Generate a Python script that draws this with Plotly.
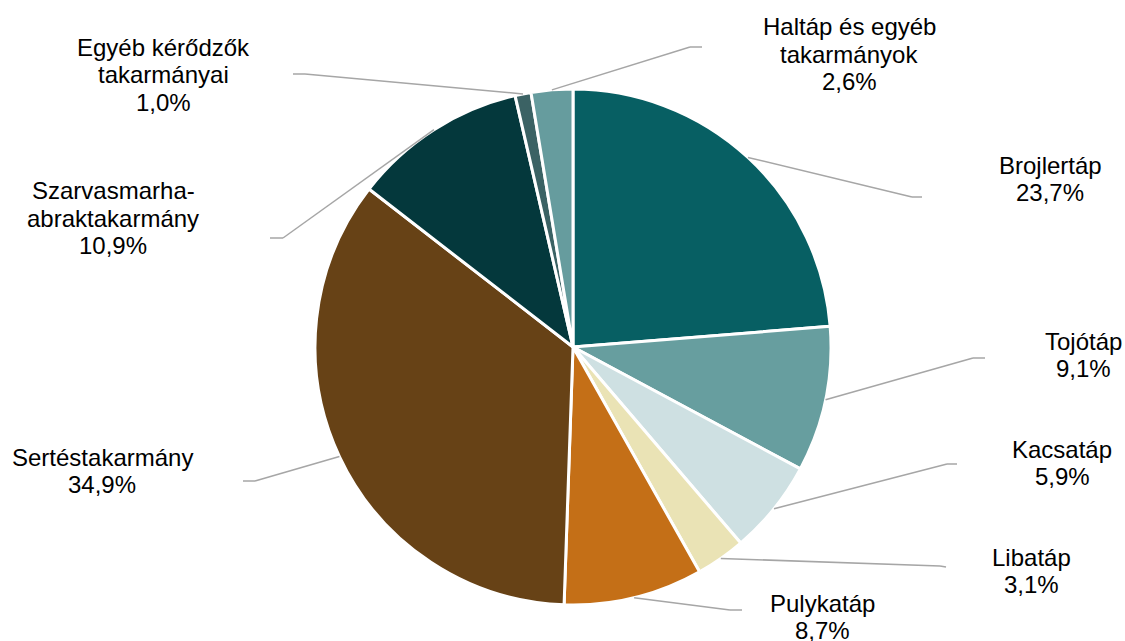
import math
import plotly.graph_objects as go

# ---- data ----
categories = ["Brojlertáp", "Tojótáp", "Kacsatáp", "Libatáp", "Pulykatáp",
              "Sertéstakarmány", "Szarvasmarha-abraktakarmány",
              "Egyéb kérődzők takarmányai", "Haltáp és egyéb takarmányok"]
label_lines = [["Brojlertáp"], ["Tojótáp"], ["Kacsatáp"], ["Libatáp"], ["Pulykatáp"],
               ["Sertéstakarmány"], ["Szarvasmarha-", "abraktakarmány"],
               ["Egyéb kérődzők", "takarmányai"], ["Haltáp és egyéb", "takarmányok"]]
values = [23.7, 9.1, 5.9, 3.1, 8.7, 34.9, 10.9, 1.0, 2.6]
colors = ["#075F63", "#679E9F", "#CEE0E2", "#EAE3B5", "#C46F17",
          "#674216", "#04383C", "#3B6264", "#669C9E"]

# ---- layout (pixel positions) ----
W, H = 1125, 641
CX, CY, R = 573, 347, 258
# elbow points of leader lines, end of short horizontal, and label centres
elbows = [(912, 197), (973, 358), (947, 464), (940, 566), (730, 610),
          (255, 481), (283, 238), (305, 74), (690, 47)]
ends = [(922, 197), (985, 358), (957, 464), (946, 567), (742, 610),
        (243, 481), (270, 238), (293, 74), (702, 47)]
label_pos = [(1050, 179), (1083, 355), (1062, 463), (1031, 571), (822, 617),
             (102, 471), (113, 218), (163, 75), (849, 54)]
LINE_H = 27.5
FONT = dict(family="Liberation Sans, Arial, sans-serif", size=24, color="#000000")


def px(x):
    return x / W


def py(y):
    return 1 - y / H


fig = go.Figure(go.Pie(
    labels=categories, values=values, sort=False, direction="clockwise",
    rotation=0, marker=dict(colors=colors, line=dict(color="white", width=3)),
    textinfo="none", hoverinfo="label+percent", showlegend=False,
    domain=dict(x=[px(CX - R), px(CX + R)], y=[py(CY + R), py(CY - R)]),
))

total = sum(values)
shapes = []
annotations = []
cum = 0.0
for i, v in enumerate(values):
    mid = (cum + v / 2) / total * 2 * math.pi
    cum += v
    sx = CX + R * math.sin(mid)
    sy = CY - R * math.cos(mid)
    ex, ey = elbows[i]
    fx, fy = ends[i]
    line = dict(color="#A6A6A6", width=1.5)
    shapes.append(dict(type="line", xref="paper", yref="paper",
                       x0=px(sx), y0=py(sy), x1=px(ex), y1=py(ey), line=line))
    shapes.append(dict(type="line", xref="paper", yref="paper",
                       x0=px(ex), y0=py(ey), x1=px(fx), y1=py(fy), line=line))
    lines = label_lines[i] + [f"{v:.1f}".replace(".", ",") + "%"]
    lx, ly = label_pos[i]
    n = len(lines)
    for j, t in enumerate(lines):
        yy = ly + (j - (n - 1) / 2) * LINE_H
        annotations.append(dict(text=t, x=px(lx), y=py(yy), xref="paper", yref="paper",
                                showarrow=False, xanchor="center", yanchor="middle",
                                font=FONT))

fig.update_layout(width=W, height=H, margin=dict(l=0, r=0, t=0, b=0),
                  paper_bgcolor="white", plot_bgcolor="white",
                  shapes=shapes, annotations=annotations)
fig.write_html("out.html", config={"displayModeBar": False},
               post_script="document.body.style.margin='0';"
                           "document.body.style.overflow='hidden';")
